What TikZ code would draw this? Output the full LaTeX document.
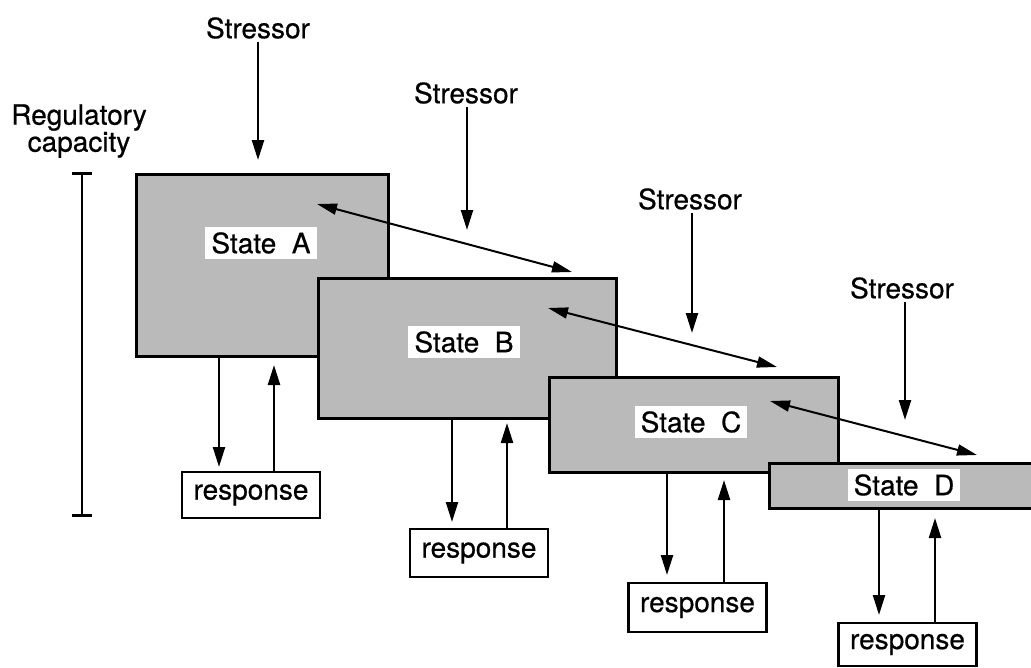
\documentclass[tikz,border=0pt]{standalone}
\usepackage{fontspec}
\setmainfont{TeX Gyre Heros}[FakeBold=0.6]
\usepackage{tikz}
\usetikzlibrary{arrows.meta}
\tikzstyle{statebox}=[draw, fill=black!27, line width=3pt, anchor=north west,
    inner sep=0pt]
\tikzstyle{statelabel}=[fill=white, inner xsep=6pt, inner ysep=5pt]
\tikzstyle{response}=[draw, fill=white, line width=2.8pt, minimum width=138pt,
    minimum height=46pt, inner sep=0pt]
\tikzstyle{arrow}=[line width=2.3pt, -{Triangle[length=20pt,width=12pt]}]
\tikzstyle{link}=[line width=2pt,
    {Triangle[length=20pt,width=11pt]}-{Triangle[length=20pt,width=11pt]}]

\begin{document}
\begin{tikzpicture}[x=1pt,y=-1pt,font=\fontsize{28}{27}\selectfont]
\clip (0,0) rectangle (1031,667);
% Regulatory capacity
\path (79,131) node [align=center] (reg) {Regulatory\\capacity};
\coordinate (capTop) at (82,172);
\coordinate (capBot) at (82,517);
\draw [line width=2.8pt, {Bar[width=20pt]}-{Bar[width=20pt]}] (capTop) -- (capBot);
% States
\path (135,173) node [statebox, minimum width=252pt, minimum height=182pt] (stA) {};
\path (317,277) node [statebox, minimum width=298pt, minimum height=140pt] (stB) {};
\path (548,376) node [statebox, minimum width=289pt, minimum height=95pt] (stC) {};
\path (768,462) node [statebox, minimum width=290pt, minimum height=45pt] (stD) {};
\path (261,243) node [statelabel] (lA) {State~~A};
\path (464,342) node [statelabel] (lB) {State~~B};
\path (691,422) node [statelabel] (lC) {State~~C};
\path (904,485) node [statelabel] (lD) {State~~D};
% Stressors
\path (258,28) node (sA) {Stressor};
\path (466,93) node (sB) {Stressor};
\path (690,199) node (sC) {Stressor};
\path (902,288) node (sD) {Stressor};
\coordinate (tA) at (258,160);
\coordinate (tB) at (467,230);
\coordinate (tC) at (692,333);
\coordinate (tD) at (905,420);
\draw [arrow] (sA.south -| tA) -- (tA);
\draw [arrow] (sB.south -| tB) -- (tB);
\draw [arrow] (sC.south -| tC) -- (tC);
\draw [arrow] (sD.south -| tD) -- (tD);
% links between states
\coordinate (kA) at (317,204);
\coordinate (kB) at (572,272);
\coordinate (kB2) at (548,308);
\coordinate (kC) at (777,367);
\coordinate (kC2) at (770,401);
\coordinate (kD) at (977,455);
\draw [link] (kA) -- (kB);
\draw [link] (kB2) -- (kC);
\draw [link] (kC2) -- (kD);
% Responses
\path (251,495) node [response] (rA) {response};
\path (479,553) node [response, minimum height=48pt] (rB) {response};
\path (697.5,607.5) node [response, minimum height=49pt] (rC) {response};
\path (907.5,644.5) node [response, minimum height=43pt] (rD) {response};
\coordinate (dA) at (219,467);
\coordinate (uA) at (274,365);
\coordinate (dB) at (452,522);
\coordinate (uB) at (507,423);
\coordinate (dC) at (667,575);
\coordinate (uC) at (724,480);
\coordinate (dD) at (879,615);
\coordinate (uD) at (935,518);
\draw [arrow] (stA.south -| dA) -- (dA);
\draw [arrow] (rA.north -| uA) -- (uA);
\draw [arrow] (stB.south -| dB) -- (dB);
\draw [arrow] (rB.north -| uB) -- (uB);
\draw [arrow] (stC.south -| dC) -- (dC);
\draw [arrow] (rC.north -| uC) -- (uC);
\draw [arrow] (stD.south -| dD) -- (dD);
\draw [arrow] (rD.north -| uD) -- (uD);
\end{tikzpicture}
\end{document}
